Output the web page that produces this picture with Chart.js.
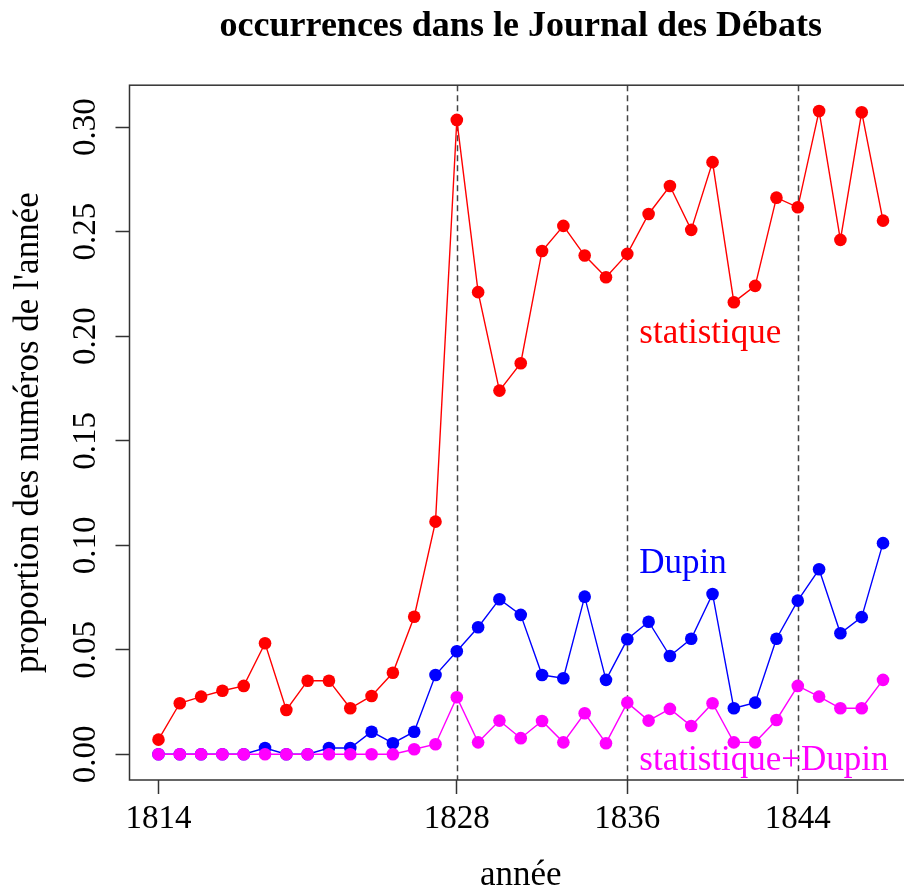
<!DOCTYPE html>
<html>
<head>
<meta charset="utf-8">
<script src="https://cdn.jsdelivr.net/npm/chart.js@4/dist/chart.umd.min.js"></script>
<style>
  html, body { margin: 0; padding: 0; background: #fff; overflow: hidden; }
  canvas { display: block; }
</style>
</head>
<body>
<canvas id="c" width="924" height="892" style="width:924px;height:892px"></canvas>
<script>
// ---- data ----
const years = [1814,1815,1816,1817,1818,1819,1820,1821,1822,1823,1824,1825,1826,1827,1828,1829,1830,1831,1832,1833,1834,1835,1836,1837,1838,1839,1840,1841,1842,1843,1844,1845,1846,1847,1848];
const statistique = [0.007,0.0244,0.0276,0.0304,0.0327,0.0531,0.0212,0.0352,0.0352,0.0220,0.0279,0.0390,0.0658,0.1113,0.3035,0.2211,0.1740,0.1871,0.2408,0.2528,0.2386,0.2282,0.2394,0.2585,0.2719,0.2509,0.2833,0.2163,0.2241,0.2663,0.2617,0.3078,0.2461,0.3072,0.2553];
const dupin = [0,0,0,0,0,0.003,0,0,0.003,0.003,0.0108,0.0053,0.0108,0.0379,0.0493,0.0608,0.0742,0.0667,0.0379,0.0364,0.0754,0.0356,0.0550,0.0634,0.0470,0.0553,0.0767,0.0220,0.0247,0.0553,0.0735,0.0885,0.0579,0.0656,0.1010];
const statDupin = [0,0,0,0,0,0,0,0,0,0,0,0,0.0024,0.0048,0.0273,0.0057,0.0161,0.0077,0.0159,0.0057,0.0196,0.0053,0.0247,0.0161,0.0217,0.0135,0.0244,0.0057,0.0057,0.0164,0.0327,0.0276,0.0220,0.0220,0.0356];
const seriesNames = ['statistique', 'Dupin', 'statistique+Dupin'];
const xTicks = [1814, 1828, 1836, 1844];
const xTickLabels = ['1814', '1828', '1836', '1844'];
const yTicks = [0, 0.05, 0.10, 0.15, 0.20, 0.25, 0.30];
const yTickLabels = ['0.00', '0.05', '0.10', '0.15', '0.20', '0.25', '0.30'];
const markerYears = [1828, 1836, 1844];
const labelX = [1836, 1836, 1836];
const labelY = [0.201, 0.091, -0.003];
const titleText = 'occurrences dans le Journal des Débats';
const xTitle = 'année';
const yTitle = "proportion des numéros de l'année";

// ---- styling ----
const FONT = "'Liberation Serif', 'Times New Roman', serif";
const colors = ['#ff0000', '#0000ff', '#ff00ff'];
const AXIS = '#333333';

// axis extents like R (4% padding)
const xRange = years[years.length - 1] - years[0];
const xMin = years[0] - 0.04 * xRange;
const xMax = years[years.length - 1] + 0.04 * xRange;
const allMax = Math.max(...statistique, ...dupin, ...statDupin);
const yMin = 0 - 0.04 * allMax;
const yMax = allMax + 0.04 * allMax;

function mk(vals) { return years.map((y, i) => ({x: y, y: vals[i]})); }

const overlay = {
  id: 'overlay',
  beforeDatasetsDraw(chart) {
    const {ctx, chartArea: a, scales: {x, y}} = chart;
    ctx.save();
    ctx.strokeStyle = '#444444';
    ctx.lineWidth = 1.5;
    ctx.setLineDash([6, 4]);
    markerYears.forEach(yr => {
      const px = Math.round(x.getPixelForValue(yr)) + 0.5;
      ctx.beginPath();
      ctx.moveTo(px, a.top);
      ctx.lineTo(px, a.bottom);
      ctx.stroke();
    });
    ctx.restore();
  },
  afterDatasetsDraw(chart) {
    const {ctx, chartArea: a, scales: {x, y}} = chart;
    ctx.save();
    ctx.strokeStyle = AXIS;
    ctx.lineWidth = 1.5;
    ctx.strokeRect(a.left, a.top, a.right - a.left, a.bottom - a.top);
    ctx.font = '35px ' + FONT;
    ctx.textAlign = 'left';
    ctx.textBaseline = 'middle';
    seriesNames.forEach((t, i) => {
      ctx.fillStyle = colors[i];
      ctx.fillText(t, x.getPixelForValue(labelX[i]) + 12, y.getPixelForValue(labelY[i]));
    });
    ctx.restore();
  }
};

new Chart(document.getElementById('c'), {
  type: 'line',
  data: {
    datasets: seriesNames.map((n, i) => ({
      label: n,
      data: mk([statistique, dupin, statDupin][i]),
      borderColor: colors[i],
      backgroundColor: colors[i],
      borderWidth: 1.4,
      pointRadius: 6.3,
      pointBorderWidth: 0,
      pointHoverRadius: 6.3,
      tension: 0,
      order: 3 - i
    }))
  },
  options: {
    responsive: false,
    devicePixelRatio: 1,
    animation: false,
    events: [],
    layout: { padding: { left: 0, right: 12, top: 0, bottom: 0 } },
    plugins: {
      legend: { display: false },
      tooltip: { enabled: false },
      title: {
        display: true,
        text: titleText,
        fullSize: false,
        color: '#000',
        font: { family: FONT, size: 36, weight: 'bold', lineHeight: 1.2 },
        padding: { top: 5, bottom: 37 }
      }
    },
    scales: {
      x: {
        type: 'linear',
        min: xMin,
        max: xMax,
        afterBuildTicks: s => { s.ticks = xTicks.map(v => ({value: v})); },
        afterFit: s => { s.height = 112; },
        grid: { display: true, drawOnChartArea: false, drawTicks: true, tickLength: 14, tickColor: AXIS, tickWidth: 1.5 },
        border: { display: false },
        ticks: {
          color: '#000',
          autoSkip: false,
          maxRotation: 0,
          minRotation: 0,
          padding: 6,
          font: { family: FONT, size: 33, lineHeight: 1.2 },
          callback: (v) => { const k = xTicks.indexOf(v); return k >= 0 ? xTickLabels[k] : ''; }
        },
        title: {
          display: true,
          text: xTitle,
          color: '#000',
          font: { family: FONT, size: 35, lineHeight: 0.92 },
          padding: { top: 0, bottom: 0 }
        }
      },
      y: {
        type: 'linear',
        min: yMin,
        max: yMax,
        afterBuildTicks: s => { s.ticks = yTicks.map(v => ({value: v})); },
        afterFit: s => { s.width = 129.5; },
        grid: { display: true, drawOnChartArea: false, drawTicks: true, tickLength: 14, tickColor: AXIS, tickWidth: 1.5 },
        border: { display: false },
        ticks: {
          color: '#000',
          autoSkip: false,
          minRotation: 90,
          maxRotation: 90,
          crossAlign: 'center',
          padding: 0,
          font: { family: FONT, size: 33, lineHeight: 1.2 },
          callback: (v) => { const k = yTicks.findIndex(t => Math.abs(t - v) < 1e-9); return k >= 0 ? yTickLabels[k] : ''; }
        },
        title: {
          display: true,
          text: yTitle,
          color: '#000',
          font: { family: FONT, size: 35, lineHeight: 0.92 },
          padding: { top: 13, bottom: 0 }
        }
      }
    }
  },
  plugins: [overlay]
});
</script>
</body>
</html>
